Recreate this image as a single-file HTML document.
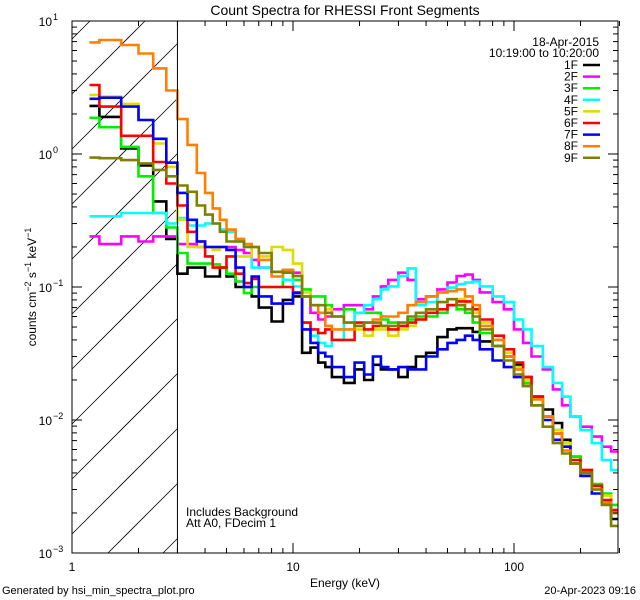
<!DOCTYPE html>
<html><head><meta charset="utf-8"><style>
html,body{margin:0;padding:0;background:#fff;width:640px;height:600px;overflow:hidden;}
svg{display:block;font-family:"Liberation Sans",sans-serif;overflow:hidden;}
</style></head><body>
<svg id="chart" width="640" height="600" viewBox="0 0 640 600" xmlns="http://www.w3.org/2000/svg">
<rect width="640" height="600" fill="#fff"/>
<defs><clipPath id="plotclip"><rect x="72" y="21" width="546" height="532"/></clipPath></defs>
<text x="345" y="15" font-size="14" text-anchor="middle">Count Spectra for RHESSI Front Segments</text>
<g id="hatch"></g>
<g id="series" clip-path="url(#plotclip)"></g>
<g id="axes"></g>
<text x="345" y="587" font-size="12" text-anchor="middle">Energy (keV)</text>
<text transform="translate(36,287) rotate(-90)" font-size="12" text-anchor="middle">counts cm<tspan baseline-shift="super" font-size="9">−2</tspan> s<tspan baseline-shift="super" font-size="9">−1</tspan> keV<tspan baseline-shift="super" font-size="9">−1</tspan></text>
<text x="186" y="516" font-size="12">Includes Background</text>
<text x="186" y="527" font-size="12">Att A0, FDecim 1</text>
<text x="2" y="594" font-size="11">Generated by hsi_min_spectra_plot.pro</text>
<text x="636" y="594" font-size="11" text-anchor="end">20-Apr-2023 09:16</text>
<g id="legend"></g>
</svg>
<script>
const edges=[1.2,1.33,1.67,2,2.33,2.67,3,3.33,3.67,4,4.33,4.67,5,5.5,6,6.5,7,8,9,10,11,12,13,14,15,17,19,21,23,25,27,30,33,36,40,45,50,55,60,65,70,80,90,100,110,120,135,150,165,180,200,225,250,275,300];
const seriesNames=["1F","2F","3F","4F","5F","6F","7F","8F","9F"];
const seriesColors=["#000000","#ff00ff","#00ee00","#00ffff","#dddd00","#ff0000","#0000ff","#ff8000","#808000"];
const s1F=[2.3,1.9,1.1,0.82,0.44,0.23,0.126,0.14,0.14,0.12,0.12,0.14,0.12,0.10,0.10,0.085,0.07,0.055,
0.08,0.085,0.032,0.035,0.027,0.025,0.021,0.019,0.024,0.020,0.026,0.024,0.024,0.021,0.025,0.030,0.032,0.042,0.048,0.049,0.049,0.046,0.039,0.036,0.030,0.026,0.021,0.015,0.012,0.0095,0.0071,0.0053,0.0042,0.0032,0.0024,0.0018];
const s2F=[0.24,0.21,0.24,0.22,0.24,0.24,0.21,0.21,0.2,0.2,0.2,0.2,0.2,0.19,0.18,0.16,0.14,0.13,
0.134,0.128,0.085,0.064,0.057,0.060,0.068,0.073,0.073,0.068,0.085,0.101,0.113,0.128,0.113,0.081,0.085,0.096,0.108,0.121,0.124,0.113,0.091,0.077,0.068,0.048,0.038,0.030,0.024,0.017,0.0129,0.0106,0.0089,0.0075,0.0063,0.0058];
const s3F=[1.87,1.59,1.13,0.68,0.36,0.28,0.18,0.15,0.15,0.15,0.148,0.14,0.126,0.11,0.09,0.10,0.10,0.10,
0.134,0.113,0.096,0.085,0.085,0.073,0.060,0.068,0.064,0.064,0.064,0.057,0.054,0.051,0.057,0.060,0.060,0.064,0.073,0.068,0.064,0.054,0.045,0.036,0.030,0.024,0.019,0.0143,0.0106,0.0084,0.0067,0.0053,0.0042,0.0033,0.0028,0.0023];
const s4F=[0.34,0.34,0.36,0.36,0.36,0.30,0.33,0.29,0.29,0.30,0.30,0.27,0.26,0.22,0.2,0.14,0.14,0.13,
0.113,0.101,0.054,0.043,0.038,0.036,0.040,0.054,0.064,0.073,0.081,0.096,0.101,0.121,0.138,0.073,0.077,0.091,0.099,0.105,0.108,0.110,0.101,0.085,0.077,0.057,0.048,0.036,0.025,0.019,0.015,0.0106,0.0084,0.0067,0.0050,0.0042];
const s5F=[2.78,2.7,2.38,1.8,1.2,0.8,0.32,0.2,0.2,0.2,0.19,0.2,0.19,0.17,0.17,0.2,0.17,0.2,
0.19,0.150,0.091,0.073,0.073,0.068,0.060,0.054,0.048,0.043,0.048,0.048,0.043,0.048,0.051,0.057,0.068,0.077,0.081,0.081,0.077,0.064,0.054,0.040,0.032,0.025,0.020,0.0143,0.0106,0.0084,0.0067,0.0050,0.0042,0.0032,0.0027,0.0021];
const s6F=[3.3,2.27,1.37,1.37,0.87,0.6,0.41,0.26,0.22,0.17,0.14,0.14,0.17,0.126,0.107,0.115,0.10,0.10,
0.10,0.091,0.054,0.048,0.045,0.048,0.040,0.040,0.054,0.048,0.051,0.051,0.048,0.051,0.054,0.057,0.064,0.068,0.073,0.078,0.078,0.068,0.057,0.043,0.034,0.027,0.021,0.015,0.0106,0.0079,0.0063,0.0050,0.0042,0.0032,0.0025,0.0021];
const s7F=[2.6,2.65,2.27,1.8,1.3,0.86,0.51,0.32,0.22,0.20,0.20,0.20,0.19,0.14,0.10,0.12,0.085,0.075,
0.075,0.09,0.048,0.038,0.032,0.030,0.025,0.021,0.027,0.022,0.030,0.025,0.024,0.025,0.024,0.024,0.030,0.034,0.038,0.040,0.043,0.040,0.034,0.028,0.025,0.021,0.018,0.0129,0.010,0.0071,0.0063,0.0047,0.0038,0.0028,0.0024,0.002];
const s8F=[6.9,7.2,6.6,5.7,4.4,3.0,1.83,1.17,0.72,0.51,0.39,0.32,0.27,0.23,0.21,0.2,0.16,0.12,
0.134,0.121,0.085,0.073,0.064,0.051,0.048,0.048,0.051,0.054,0.057,0.060,0.060,0.064,0.073,0.077,0.085,0.091,0.093,0.096,0.085,0.073,0.051,0.040,0.030,0.024,0.018,0.0143,0.0106,0.0079,0.0059,0.0047,0.0040,0.0030,0.0024,0.0020];
const s9F=[0.94,0.93,0.9,0.85,0.76,0.68,0.58,0.52,0.41,0.35,0.30,0.26,0.22,0.22,0.2,0.2,0.18,0.13,
0.128,0.121,0.085,0.073,0.073,0.064,0.060,0.054,0.051,0.054,0.054,0.051,0.051,0.054,0.060,0.064,0.068,0.077,0.081,0.073,0.068,0.060,0.048,0.036,0.028,0.022,0.018,0.0129,0.0089,0.0067,0.0056,0.0047,0.0040,0.0030,0.0023,0.0016];
const allSeries=[s1F,s2F,s3F,s4F,s5F,s6F,s7F,s8F,s9F];
const xTickValues=[1,10,100];
const xTickLabels=["1","10","100"];
const yTickExps=[-3,-2,-1,0,1];

const NS="http://www.w3.org/2000/svg";
const X0=72,X1=618,Y0=553,Y1=21;
const xDec=221, yDec=(Y0-Y1)/4;
function xs(e){return X0+xDec*Math.log10(e);}
function ys(v){return Y0-yDec*(Math.log10(v)+3);}
function mk(tag,attrs,parent){const el=document.createElementNS(NS,tag);for(const k in attrs)el.setAttribute(k,attrs[k]);parent.appendChild(el);return el;}

const hatch=document.getElementById('hatch');
const XR=xs(3);
for(let k=X0+Y1+18;k<XR+Y0;k+=55){
  const xa=Math.max(X0,k-Y0), xb=Math.min(XR,k-Y1);
  if(xb<=xa)continue;
  const l=mk('line',{x1:xa.toFixed(1),y1:(k-xa).toFixed(1),x2:xb.toFixed(1),y2:(k-xb).toFixed(1),stroke:'#000','stroke-width':0.8},hatch);
  
  
}

const sg=document.getElementById('series');
allSeries.forEach((vals,si)=>{
  let d='';
  for(let i=0;i<vals.length;i++){
    const xa=xs(edges[i]).toFixed(1),xb=Math.min(X1,xs(edges[i+1])).toFixed(1),y=ys(vals[i]).toFixed(1);
    d+=(i===0?'M':'L')+xa+','+y+'L'+xb+','+y;
  }
  const p=mk('path',{d:d,fill:'none',stroke:seriesColors[si],'stroke-width':2.6,'stroke-linejoin':'miter'},sg);
  
  
});

const ax=document.getElementById('axes');
const frame=mk('rect',{x:X0,y:Y1,width:X1-X0,height:Y0-Y1,fill:'none',stroke:'#000','stroke-width':1},ax);


const thr=mk('line',{x1:XR,y1:Y1,x2:XR,y2:Y0,stroke:'#000','stroke-width':1},ax);


for(let dec=0;dec<3;dec++){
  for(let m=1;m<10;m++){
    const e=Math.pow(10,dec)*m; if(e>300)break;
    const x=xs(e); const len=m===1?10:5;
    const t1=mk('line',{x1:x,y1:Y0,x2:x,y2:Y0-len,stroke:'#000'},ax);
    
    
    const t2=mk('line',{x1:x,y1:Y1,x2:x,y2:Y1+len,stroke:'#000'},ax);
    
    
  }
}
xTickValues.forEach((v,i)=>{
  const t=mk('text',{x:xs(v),y:Y0+18,'font-size':12,'text-anchor':'middle'},ax);
  t.textContent=xTickLabels[i];
  
  
});
yTickExps.forEach(ex=>{
  for(let m=1;m<10;m++){
    const v=Math.pow(10,ex)*m; if(ex===1&&m>1)break;
    const y=ys(v); const len=m===1?10:5;
    const t1=mk('line',{x1:X0,y1:y,x2:X0+len,y2:y,stroke:'#000'},ax);
    
    
    const t2=mk('line',{x1:X1,y1:y,x2:X1-len,y2:y,stroke:'#000'},ax);
    
    
  }
  const t=mk('text',{x:X0-20,y:ys(Math.pow(10,ex))+5,'font-size':12,'text-anchor':'end'},ax);
  t.textContent='10';
  
  
  const s=mk('text',{x:X0-19,y:ys(Math.pow(10,ex))-1,'font-size':9},ax);
  s.textContent=ex<0?('−'+(-ex)):String(ex);
  
  
});

const lg=document.getElementById('legend');
const d1=mk('text',{x:599,y:46,'font-size':12,'text-anchor':'end'},lg);
d1.textContent='18-Apr-2015';


const d2=mk('text',{x:599,y:57,'font-size':12,'text-anchor':'end'},lg);
d2.textContent='10:19:00 to 10:20:00';


seriesNames.forEach((n,i)=>{
  const y=65+i*11.6;
  const t=mk('text',{x:578,y:y+4,'font-size':12,'text-anchor':'end'},lg);
  t.textContent=n;
  
  
  const l=mk('line',{x1:583,y1:y,x2:600,y2:y,stroke:seriesColors[i],'stroke-width':2.5},lg);
  
  
});
</script>
</body></html>
